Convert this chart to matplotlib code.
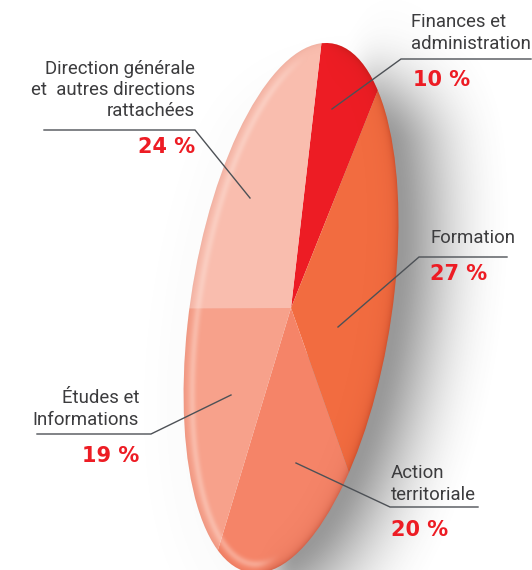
import numpy as np, matplotlib
matplotlib.use('Agg')
import matplotlib.pyplot as plt
from matplotlib.transforms import Affine2D
from matplotlib.patches import Circle

categories = ["Finances et\nadministration", "Formation", "Action\nterritoriale",
              "Études et\nInformations", "Direction générale\net  autres directions\nrattachées"]
values = [10, 27, 20, 19, 24]
colors = ["#ED1C24", "#F26C40", "#F58468", "#F7A18B", "#F9BDAE"]

W, H = 532, 570
CX, CY = 291, H - 308
K = 288.6
M = np.array([[0.1053, 0.3817], [0.9164, 0.0581]]) * K
XS = 0.94      # outline slightly narrower than the angular fit

def aff(m):
    return Affine2D(matrix=np.array([[m[0, 0], m[0, 1], CX], [m[1, 0], m[1, 1], CY], [0, 0, 1.]]))

M_out = M * np.array([[XS], [1]])

fig = plt.figure(figsize=(W / 100, H / 100), dpi=100)
ax = fig.add_axes([0, 0, 1, 1])

wedges, _ = ax.pie(values, colors=colors, radius=1.3, startangle=0, counterclock=True,
                   wedgeprops=dict(linewidth=0))
ax.set_xlim(0, W); ax.set_ylim(0, H); ax.set_aspect('auto'); ax.axis('off')

outline = Circle((0, 0), 1, facecolor='none', edgecolor='none',
                 transform=aff(M_out) + ax.transData)
ax.add_patch(outline)
for w in wedges:
    w.set_transform(aff(M) + ax.transData)
    w.set_clip_on(True)
    w.set_clip_path(outline)
    w.set_zorder(3)

# soft shading fields
X, Y = np.meshgrid(np.arange(W) + .5, H - (np.arange(H) + .5))
inv = np.linalg.inv(M_out)

def sdist(dx, dy):
    x, y = X - CX - dx, Y - CY - dy
    a = inv[0, 0] * x + inv[0, 1] * y
    b = inv[1, 0] * x + inv[1, 1] * y
    r2 = a * a + b * b
    gx = 2 * (a * inv[0, 0] + b * inv[1, 0])
    gy = 2 * (a * inv[0, 1] + b * inv[1, 1])
    return (r2 - 1) / np.maximum(np.hypot(gx, gy), 1e-6), gx, gy

def smooth(t):
    t = np.clip(t, 0, 1)
    return t * t * (3 - 2 * t)

d, sgx, sgy = sdist(22, -8)
sn = np.hypot(sgx, sgy) + 1e-6
mask = 0.07 + 0.93 * smooth((sgx / sn - 0.3 * sgy / sn + 0.4) / 1.1)
yfade = 0.1 + 0.9 * smooth(((H - Y) - 15) / 130)
sh = 0.6 * smooth((75 - d) / 100) ** 1.3 * mask * yfade
rgba = np.zeros((H, W, 4)); rgba[..., :3] = 0.33; rgba[..., 3] = sh
ax.imshow(rgba, extent=(0, W, 0, H), origin='upper', zorder=1, aspect='auto')

d0, gx, gy = sdist(0, 0)
din = -d0
n = np.hypot(gx, gy) + 1e-6
nx, ny = gx / n, gy / n
left = smooth((-nx * 0.9 - ny * 0.45 + 0.1) / 0.6)
right = smooth((nx + 0.1) / 0.6)
light = 0.34 * np.exp(-((din - 9) / 4.0) ** 2) * left
dark = 0.16 * np.exp(-np.maximum(din, 0) / 3.0) * (0.5 + right) + 0.10 * np.exp(-np.maximum(din, 0) / 12.0) * right
ov = np.zeros((H, W, 4))
col_l = np.array([1, .93, .90]); col_d = np.array([.55, .12, .05])
alpha = 1 - (1 - light) * (1 - dark)
for i in range(3):
    ov[..., i] = (light * col_l[i] + dark * col_d[i]) / np.maximum(light + dark, 1e-6)
ov[..., 3] = alpha
im = ax.imshow(ov, extent=(0, W, 0, H), origin='upper', zorder=4, aspect='auto')
im.set_clip_path(outline)
ax.set_xlim(0, W); ax.set_ylim(0, H)

# leaders (pixel-style layout)
leaders = [
    [(531, 59), (401, 59), (332, 109)],
    [(507, 257), (419, 257), (338, 327)],
    [(478, 507), (390, 507), (296, 463)],
    [(37, 434), (151, 434), (231, 395)],
    [(44, 130), (195, 130), (250, 198)],
]
for L in leaders:
    xs, ys = zip(*L)
    ax.plot(xs, [H - y for y in ys], color='#4d5156', lw=1.0, zorder=5, solid_joinstyle='miter')

TXT = ['Roboto', 'DejaVu Sans']
lab_pos = [(411, 33, 'left'), (431, 238, 'left'), (391, 484, 'left'), (139, 409, 'right'), (195, 90, 'right')]
pct_pos = [(413, 80, 'left'), (430, 274, 'left'), (391, 530, 'left'), (139, 456, 'right'), (195, 147, 'right')]
for cat, v, lp, pp in zip(categories, values, lab_pos, pct_pos):
    ax.text(lp[0], H - lp[1], cat, ha=lp[2], va='center', multialignment=lp[2], family=TXT, fontsize=13.4,
            color='#3c3c3e', linespacing=1.25, zorder=6)
    ax.text(pp[0], H - pp[1], f"{v} %", ha=pp[2], va='center', family='DejaVu Sans', weight='bold',
            fontsize=15, color='#ED1C24', zorder=6)

fig.savefig('out.png', dpi=100, facecolor='white')
